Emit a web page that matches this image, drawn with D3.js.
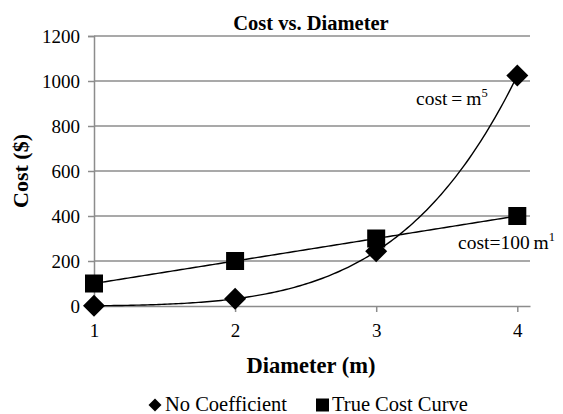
<!DOCTYPE html>
<html><head><meta charset="utf-8">
<script src="https://cdn.jsdelivr.net/npm/d3@7"></script>
<style>body{margin:0;background:#fff}svg{display:block}svg text{font-family:"Liberation Serif","Times New Roman",serif !important;fill:#000}</style>
</head><body><svg id="c" width="563" height="414"></svg>
<script>
const diameters = [1, 2, 3, 4];
const noCoefficient = [1, 32, 243, 1024];
const trueCost = [100, 200, 300, 400];
const yTicks = [0, 200, 400, 600, 800, 1000, 1200];
const xTicks = [1, 2, 3, 4];
const trendCoef = [1, 100];
const trendExp = [5, 1];
const seriesNames = ["No Coefficient", "True Cost Curve"];

const FONT = '"Liberation Serif","Times New Roman",serif';
const svg = d3.select("#c");
const x = d3.scaleLinear().domain([1, 4.09]).range([94, 530]);
const y = d3.scaleLinear().domain([0, 1200]).range([306, 36]);

// gridlines
svg.append("g").selectAll("line").data(yTicks.filter(d => d > 0)).join("line")
  .attr("x1", x(1)).attr("x2", x(4.09)).attr("y1", d => y(d)).attr("y2", d => y(d))
  .attr("stroke", "#8c8c8c").attr("stroke-width", 1.5);

// y axis
const ya = svg.append("g").attr("transform", `translate(${x(1)},0)`)
  .call(d3.axisLeft(y).tickValues(yTicks).tickSize(6).tickPadding(8).tickFormat(d3.format("d")))
  .attr("font-family", FONT);
ya.select(".domain").attr("stroke", "#8c8c8c").attr("stroke-width", 1.5);
ya.selectAll(".tick line").attr("stroke", "#8c8c8c").attr("stroke-width", 1.5);
ya.selectAll(".tick text").style("font-size", "19px").style("font-family", FONT).attr("dy", "0.35em");

// x axis
const xa = svg.append("g").attr("transform", `translate(0,${y(0)})`)
  .call(d3.axisBottom(x).tickValues(xTicks).tickSize(6).tickPadding(12).tickFormat(d3.format("d")).tickSizeOuter(0))
  .attr("font-family", FONT);
xa.select(".domain").attr("stroke", "#8c8c8c").attr("stroke-width", 1.5);
xa.selectAll(".tick line").attr("stroke", "#8c8c8c").attr("stroke-width", 1.5);
xa.selectAll(".tick text").style("font-size", "19px").style("font-family", FONT);

// trendlines
const line = d3.line().x(d => x(d[0])).y(d => y(d[1]));
trendCoef.forEach((c, i) => {
  const pts = d3.range(0, 151).map(k => { const m = 1 + 3 * k / 150; return [m, c * Math.pow(m, trendExp[i])]; });
  svg.append("path").datum(pts).attr("d", line).attr("fill", "none").attr("stroke", "#000").attr("stroke-width", 1.4);
});

// markers
const diamond = s => `M0,${-s}L${s},0L0,${s}L${-s},0Z`;
svg.append("g").selectAll("path").data(diameters).join("path")
  .attr("transform", (d, i) => `translate(${x(d)},${y(noCoefficient[i])})`)
  .attr("d", diamond(11)).attr("fill", "#000");
svg.append("g").selectAll("rect").data(diameters).join("rect")
  .attr("x", d => x(d) - 9).attr("y", (d, i) => y(trueCost[i]) - 9)
  .attr("width", 18).attr("height", 18).attr("fill", "#000");

// title & axis labels
svg.append("text").attr("x", 311).attr("y", 30).attr("text-anchor", "middle")
  .style("font-size", "20.5px").style("font-weight", "bold").text("Cost vs. Diameter");
svg.append("text").attr("x", 311).attr("y", 373).attr("text-anchor", "middle")
  .style("font-size", "22.5px").style("font-weight", "bold").text("Diameter (m)");
svg.append("text").attr("transform", "translate(28,171) rotate(-90)").attr("text-anchor", "middle")
  .style("font-size", "22px").style("font-weight", "bold").text("Cost ($)");

// trendline labels
const t1 = svg.append("text").attr("x", 416).attr("y", 105).style("font-size", "19.5px");
t1.append("tspan").text("cost\u2009=\u2009m");
t1.append("tspan").attr("dy", -8).style("font-size", "12.5px").text(trendExp[0]);
const t2 = svg.append("text").attr("x", 458).attr("y", 249).style("font-size", "19.5px");
t2.append("tspan").text("cost=" + trendCoef[1] + "\u2009m");
t2.append("tspan").attr("dy", -8).style("font-size", "12.5px").text(trendExp[1]);

// legend
svg.append("path").attr("transform", "translate(155,405)").attr("d", diamond(6.5)).attr("fill", "#000");
svg.append("text").attr("x", 165).attr("y", 411).style("font-size", "20.5px").text(seriesNames[0]);
svg.append("rect").attr("x", 316).attr("y", 398.5).attr("width", 13).attr("height", 13).attr("fill", "#000");
svg.append("text").attr("x", 332).attr("y", 411).style("font-size", "20.5px").text(seriesNames[1]);
</script></body></html>
